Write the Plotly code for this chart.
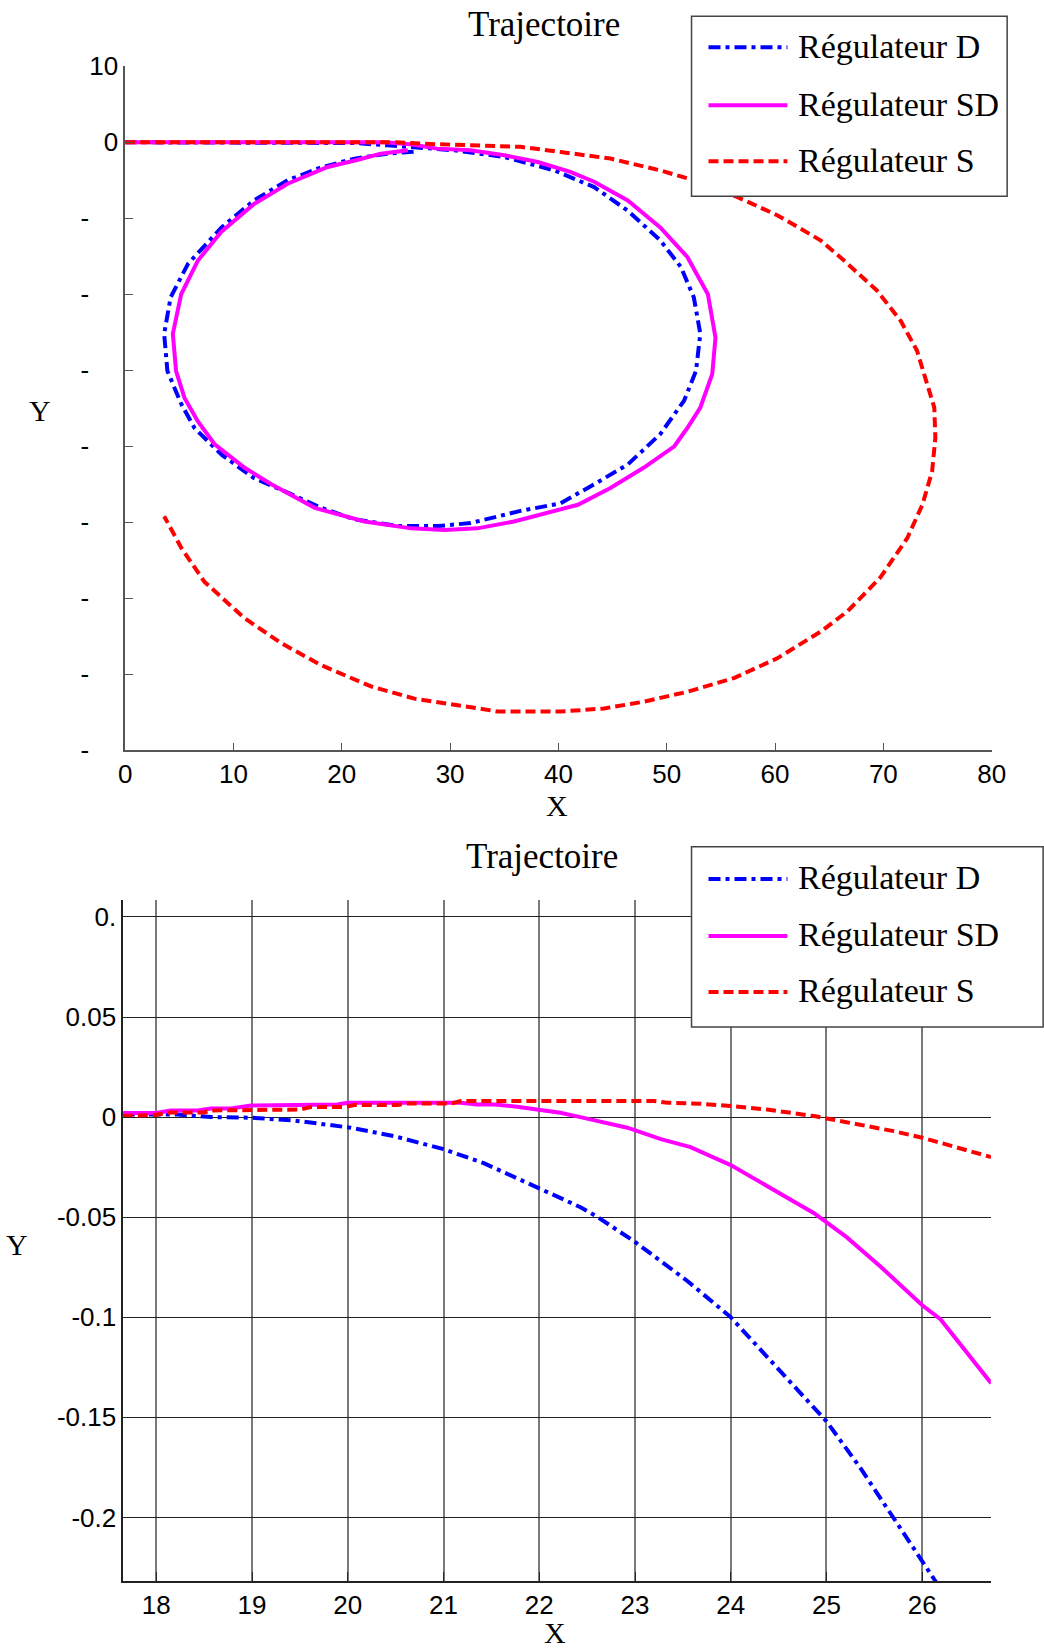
import plotly.graph_objects as go

W, H = 1044, 1648

# ---- top plot: full trajectory ----
d_x = [0, 10, 20, 21.2, 24.2, 27.5, 30.4, 35.0, 39.6, 43.3, 46.4, 49.4, 51.3, 52.5, 53.1, 52.7, 51.6,
       49.4, 46.4, 43.3, 40.2, 36.5, 31.9, 28.85, 25.2, 21.15, 18.1, 15.0, 11.9, 8.9, 6.4, 5.2, 3.9,
       3.6, 4.2, 5.8, 8.9, 11.9, 15.0, 18.1, 21.2, 24.2, 27.0]
d_y = [0, 0, 0, -0.1, -0.4, -0.8, -1.06, -1.93, -3.7, -5.9, -9.0, -12.9, -16.4, -20.4, -25.2, -30.1, -34.0,
       -38.4, -42.4, -45.0, -47.5, -48.5, -50.1, -50.5, -50.5, -49.6, -48.1, -46.1, -44.2, -41.1, -37.6, -34.5, -30.1,
       -25.2, -20.4, -16.0, -11.2, -7.65, -5.0, -3.3, -2.15, -1.5, -1.2]

sd_x = [0, 10, 20, 24, 26.5, 28.8, 31.9, 35.0, 38.1, 41.1, 43.3, 46.4, 49.4, 51.9, 53.8, 54.5, 54.2,
        53.1, 51.9, 50.7, 47.9, 44.8, 41.8, 35.9, 32.5, 29.5, 26.4, 22.1, 17.5, 13.5, 11.0, 8.24, 6.7,
        5.47, 4.7, 4.4, 5.17, 6.7, 8.86, 11.93, 15.0, 18.7, 21.5, 23.6, 26.1]
sd_y = [0, 0, 0, 0, -0.3, -0.84, -1.06, -1.7, -2.6, -3.9, -5.2, -7.65, -11.2, -15.1, -20.0, -25.7, -30.5,
        -34.9, -37.6, -40.0, -42.8, -45.5, -47.7, -49.9, -50.8, -51.0, -50.8, -49.9, -48.1, -45.0, -42.8, -39.7, -36.7,
        -33.6, -30.1, -25.2, -20.0, -15.6, -11.8, -8.09, -5.45, -3.26, -2.3, -1.5, -1.06]

s_x = [0, 10, 20, 25, 28.8, 33.5, 36.5, 40.2, 44.8, 49.4, 52.5, 56.5, 60.2, 64.2, 66.4, 69.4, 71.6, 73.1,
       74.0, 74.7, 74.8, 74.5, 73.6, 72.2, 69.7, 66.7, 64.2, 60.2, 56.2, 51.9, 47.9, 44.2, 40.2, 34.4,
       30.4, 26.7, 22.7, 18.1, 14.4, 11.0, 7.3, 5.2, 3.6]
s_y = [0, 0, 0, 0, -0.26, -0.4, -0.6, -1.28, -2.15, -3.7, -5.0, -7.2, -9.6, -12.9, -15.6, -19.5, -23.5, -27.4,
       -31.4, -34.9, -38.9, -43.3, -47.7, -52.1, -57.3, -61.7, -64.4, -67.9, -70.5, -72.3, -73.6, -74.5, -74.9, -74.9,
       -74.0, -73.2, -71.6, -68.8, -65.9, -62.6, -57.8, -53.4, -49.2]

top_xticks = [0, 10, 20, 30, 40, 50, 60, 70, 80]
top_yticks = [10, 0, -10, -20, -30, -40, -50, -60, -70, -80]
top_yticktext = ["10", "0"] + ["-<span style='color:white'>%d</span>" % abs(v) for v in top_yticks[2:]]

# ---- bottom plot: zoom near the start ----
zd_x = [17.65, 18.22, 18.57, 18.99, 19.44, 20.03, 20.48, 21.0, 21.42, 21.98, 22.43, 22.61, 22.99, 23.55,
        24.0, 24.48, 25.0, 25.35, 25.70, 26.0, 26.14, 26.2]
zd_y = [0.0013, 0.0013, 0.0, -0.0003, -0.0017, -0.0053, -0.0095, -0.016, -0.023, -0.035, -0.045, -0.050, -0.062, -0.082,
        -0.1, -0.125, -0.152, -0.175, -0.200, -0.222, -0.232, -0.237]

zsd_x = [17.65, 18.0, 18.15, 18.43, 18.57, 18.78, 18.99, 19.37, 19.48, 19.89, 20.0, 21.18, 21.35, 21.53, 21.77,
         22.05, 22.22, 22.43, 22.92, 23.27, 23.58, 24.0, 24.38, 24.87, 25.21, 25.56, 26.0, 26.19, 26.72]
zsd_y = [0.002, 0.002, 0.0033, 0.0033, 0.0043, 0.0043, 0.0058, 0.0058, 0.0063, 0.0063, 0.0072, 0.0072, 0.0063, 0.0063, 0.0052,
         0.0033, 0.0022, 0.0, -0.0053, -0.011, -0.015, -0.024, -0.0345, -0.048, -0.060, -0.0745, -0.094, -0.101, -0.133]

zs_x = [17.65, 17.98, 18.15, 18.5, 18.57, 18.99, 19.09, 19.51, 19.61, 19.96, 20.07, 20.52, 20.62, 21.08, 21.18,
        23.2, 23.34, 23.68, 24.0, 24.38, 24.87, 25.0, 25.35, 25.70, 26.0, 26.19, 26.40, 26.72]
zs_y = [0.0005, 0.001, 0.0023, 0.0023, 0.0033, 0.0033, 0.0038, 0.0038, 0.005, 0.005, 0.006, 0.006, 0.0068, 0.0068, 0.008,
        0.008, 0.0072, 0.0067, 0.0055, 0.0038, 0.0005, -0.0007, -0.0037, -0.007, -0.0103, -0.0128, -0.016, -0.020]

bot_xticks = [18, 19, 20, 21, 22, 23, 24, 25, 26]
bot_yticks = [0.1, 0.05, 0, -0.05, -0.1, -0.15, -0.2]
bot_yticktext = ["0.", "0.05", "0", "-0.05", "-0.1", "-0.15", "-0.2"]

names = ["Régulateur D", "Régulateur SD", "Régulateur S"]
colors = ["#0000ff", "#ff00ff", "#ff0000"]
dashes = ["12px,5px,4px,5px", "solid", "10px,5px"]

# the rendered page ends up slightly scaled/offset; positions below are screen pixels,
# converted back to paper fractions
SC, OX, OY = 0.981, 5.7, 14.8


def px(x):
    return (x - OX) / SC / W


def py(y):
    return 1 - (y - OY) / SC / H


fig = go.Figure()

series = [(d_x, d_y, zd_x, zd_y), (sd_x, sd_y, zsd_x, zsd_y), (s_x, s_y, zs_x, zs_y)]
for i, (tx, ty, bx, by) in enumerate(series):
    fig.add_trace(go.Scatter(x=tx, y=ty, mode='lines', name=names[i], xaxis='x', yaxis='y',
                             line=dict(color=colors[i], width=4, dash=dashes[i])))
    fig.add_trace(go.Scatter(x=bx, y=by, mode='lines', name=names[i], xaxis='x2', yaxis='y2',
                             line=dict(color=colors[i], width=4, dash=dashes[i])))

tickfont = dict(family='Liberation Sans, Arial', size=26, color='black')
serif = 'Liberation Serif, Times New Roman'

fig.update_layout(
    width=W, height=H,
    paper_bgcolor='white', plot_bgcolor='white',
    margin=dict(l=0, r=0, t=0, b=0),
    showlegend=False,
    xaxis=dict(domain=[px(124), px(991.5)], range=[0, 80], anchor='y',
               tickvals=top_xticks, ticks='inside', ticklen=8, tickcolor='#555',
               showline=True, linecolor='#555', linewidth=1.5,
               showgrid=False, zeroline=False, tickfont=tickfont),
    yaxis=dict(domain=[py(749.5), py(66)], range=[-80, 10], anchor='x',
               tickvals=top_yticks, ticktext=top_yticktext, ticks='inside', ticklen=8, tickcolor='#555',
               showline=True, linecolor='#555', linewidth=1.5,
               showgrid=False, zeroline=False, tickfont=tickfont),
    xaxis2=dict(domain=[px(122), px(990.7)], range=[17.654, 26.717], anchor='y2',
                tickvals=bot_xticks, ticks='inside', ticklen=10, tickcolor='#222',
                showline=True, linecolor='#222', linewidth=1.5,
                showgrid=True, gridcolor='#7a7a7a', gridwidth=1.5,
                zeroline=False, tickfont=tickfont),
    yaxis2=dict(domain=[py(1580), py(899)], range=[-0.232, 0.1085], anchor='x2',
                tickvals=bot_yticks, ticktext=bot_yticktext, ticks='inside', ticklen=10, tickcolor='#222',
                showline=True, linecolor='#222', linewidth=1.5,
                showgrid=True, gridcolor='#222', gridwidth=1,
                zeroline=False, tickfont=tickfont),
)

# titles and axis labels
ann = []
for (x, y, t, s) in [(543, 24, "Trajectoire", 35), (541, 856, "Trajectoire", 35),
                     (556, 805, "X", 30), (39, 410, "Y", 30),
                     (554, 1631, "X", 30), (16, 1243, "Y", 30)]:
    ann.append(dict(x=px(x), y=py(y), xref='paper', yref='paper', text=t, showarrow=False,
                    xanchor='center', yanchor='middle', font=dict(family=serif, size=s, color='black')))

# legends drawn by hand (long line samples like the original)
shapes = []
for (x0, y0, x1, y1, rows) in [(691, 16, 1007, 196, [47, 105, 161]),
                               (691, 846, 1043, 1026, [878, 935, 991])]:
    shapes.append(dict(type='rect', xref='paper', yref='paper', x0=px(x0), y0=py(y1), x1=px(x1), y1=py(y0),
                       line=dict(color='#444', width=1.5), fillcolor='white', layer='above'))
    for i, ry in enumerate(rows):
        shapes.append(dict(type='line', xref='paper', yref='paper', x0=px(708), x1=px(787), y0=py(ry), y1=py(ry),
                           line=dict(color=colors[i], width=4, dash=dashes[i]), layer='above'))
        ann.append(dict(x=px(796), y=py(ry - 1), xref='paper', yref='paper', text=names[i], showarrow=False,
                        xanchor='left', yanchor='middle', font=dict(family=serif, size=34, color='black')))

fig.update_layout(annotations=ann, shapes=shapes)

# the page's default body margin would push the figure off by a few pixels
fig.write_html("out.html", config={'displayModeBar': False},
               post_script="document.body.style.margin='0px';")
